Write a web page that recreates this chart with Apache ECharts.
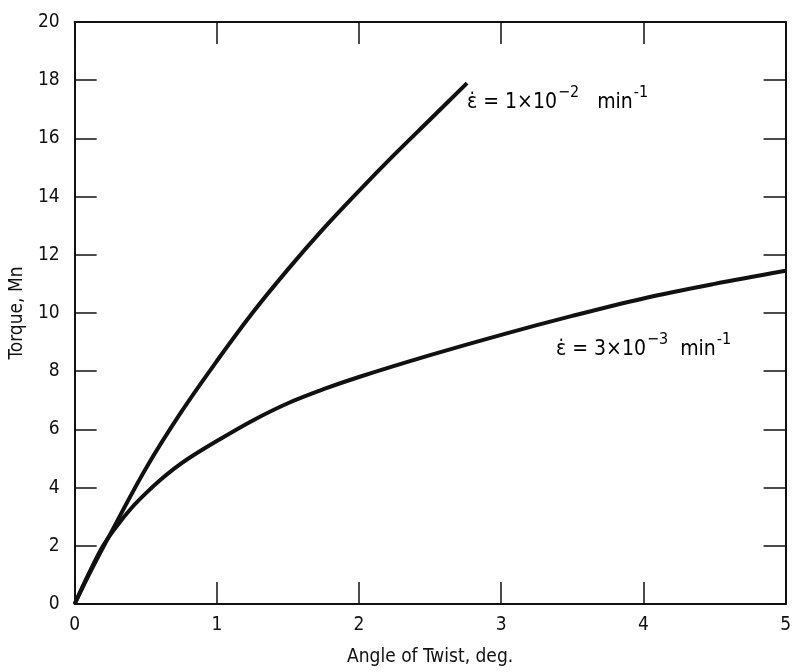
<!DOCTYPE html>
<html>
<head>
<meta charset="utf-8">
<script src="https://cdn.jsdelivr.net/npm/echarts@6/dist/echarts.min.js"></script>
<style>html,body{margin:0;background:#fff}#c{width:794px;height:672px}</style>
</head>
<body>
<div id="c"></div>
<script>
// Torque vs angle of twist, two strain rates.
const FONT = "'Liberation Sans Narrow','DejaVu Sans Condensed',sans-serif";
const INK = '#111';

const xTitle = 'Angle of Twist, deg.';
const yTitle = 'Torque, Mn';

// [angle, torque]
const fastRate = [[0,0],[0.1,1.0],[0.25,2.4],[0.5,4.65],[0.75,6.6],[1.0,8.35],[1.25,10.0],
  [1.5,11.5],[1.75,12.9],[2.0,14.2],[2.25,15.45],[2.5,16.65],[2.76,17.9]];
const slowRate = [[0,0],[0.1,1.05],[0.2,2.0],[0.3,2.7],[0.4,3.3],[0.5,3.8],[0.6,4.25],
  [0.7,4.65],[0.8,5.0],[1.0,5.6],[1.25,6.3],[1.5,6.9],[1.75,7.38],[2.0,7.8],[2.5,8.55],
  [3.0,9.25],[3.5,9.9],[4.0,10.5],[4.5,11.0],[5.0,11.45]];

const fastLabel = '{t|\u03b5\u0307 = 1\u00d710}{sup|\u22122}{t|   min}{sup|-1}';
const slowLabel = '{t|\u03b5\u0307 = 3\u00d710}{sup|\u22123}{t|  min}{sup|-1}';

const rich = {
  t:   { fontFamily: FONT, fontSize: 21, color: INK },
  sup: { fontFamily: FONT, fontSize: 16, color: INK, padding: [0, 0, 20, 1] },
};

function xAx(pos, labels) {
  return {
    type: 'value', min: 0, max: 5, interval: 1, position: pos,
    name: labels ? xTitle : '', nameLocation: 'middle', nameGap: 44,
    nameTextStyle: { color: INK, fontFamily: FONT, fontSize: 19 },
    axisLine: { onZero: false, lineStyle: { color: INK, width: 2 } },
    axisTick: { show: true, inside: true, length: 22, lineStyle: { color: INK, width: 1.5 } },
    axisLabel: { show: labels, color: INK, fontFamily: FONT, fontSize: 19, margin: 12 },
    splitLine: { show: false },
  };
}
function yAx(pos, labels) {
  return {
    type: 'value', min: 0, max: 20, interval: 2, position: pos,
    name: labels ? yTitle : '', nameLocation: 'middle', nameGap: 46,
    nameTextStyle: { color: INK, fontFamily: FONT, fontSize: 19 },
    axisLine: { onZero: false, lineStyle: { color: INK, width: 2 } },
    axisTick: { show: true, inside: true, length: 22, lineStyle: { color: INK, width: 1.5 } },
    axisLabel: { show: labels, color: INK, fontFamily: FONT, fontSize: 19, margin: 15 },
    splitLine: { show: false },
  };
}

function curve(data) {
  return {
    type: 'line', data, smooth: 0.35, showSymbol: false, silent: true,
    lineStyle: { color: INK, width: 4 },
  };
}

const chart = echarts.init(document.getElementById('c'), null, { renderer: 'canvas' });
chart.setOption({
  animation: false,
  backgroundColor: '#fff',
  grid: { left: 73, right: 2, top: 22, bottom: 65 },
  xAxis: [xAx('bottom', true), xAx('top', false)],
  yAxis: [yAx('left', true), yAx('right', false)],
  series: [curve(fastRate), curve(slowRate)],
  graphic: [
    { type: 'text', left: 467, top: 85, style: { text: fastLabel, rich } },
    { type: 'text', left: 556, top: 332, style: { text: slowLabel, rich } },
  ],
});
</script>
</body>
</html>
